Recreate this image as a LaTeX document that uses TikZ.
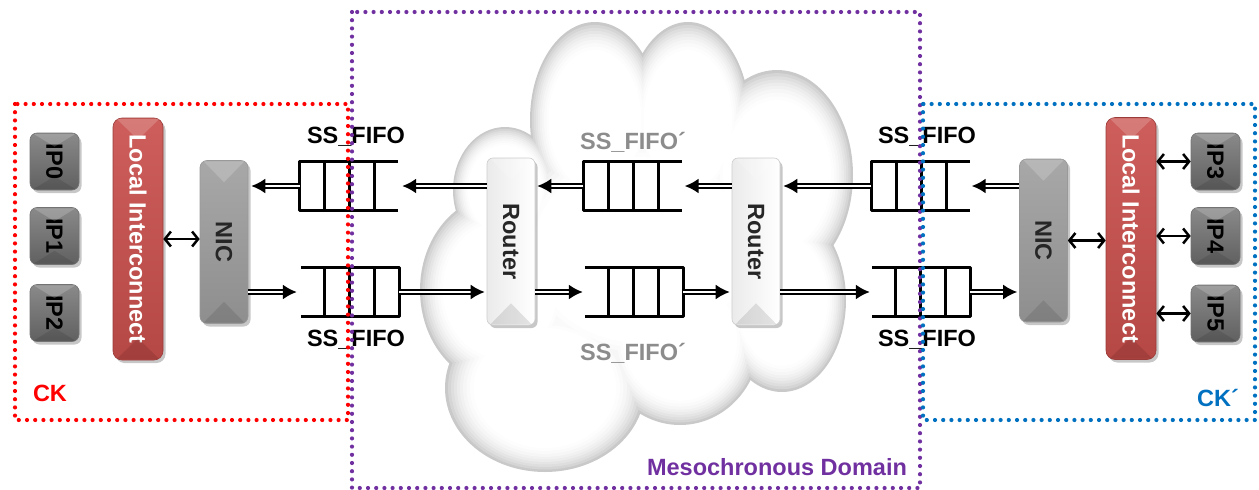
\documentclass[tikz,border=0pt]{standalone}
\usepackage{fontspec}
\usepackage{graphicx}
\setmainfont{Liberation Sans}
\usetikzlibrary{arrows.meta,shadows,calc}

\definecolor{ckred}{HTML}{FF0000}
\definecolor{ckblue}{HTML}{0070C0}
\definecolor{mesopurple}{HTML}{7030A0}
\definecolor{fifogray}{HTML}{8C8C8C}
\definecolor{ipTop}{HTML}{8A8A8A}
\definecolor{ipBot}{HTML}{606060}
\definecolor{liTop}{HTML}{CD5E5B}
\definecolor{liBot}{HTML}{B54744}
\definecolor{nicTop}{HTML}{A8A8A8}
\definecolor{nicBot}{HTML}{8E8E8E}

% light and dark facets on the bevelled boxes
\newcommand\facet[2]{%
  \fill[white,opacity=.18] ([xshift=4pt,yshift=-1.2pt]#1.north west) -- ([xshift=-4pt,yshift=-1.2pt]#1.north east) -- ([yshift=-#2pt]#1.north) -- cycle;
  \fill[black,opacity=.10] ([xshift=4pt,yshift=1.2pt]#1.south west) -- ([xshift=-4pt,yshift=1.2pt]#1.south east) -- ([yshift=#2pt]#1.south) -- cycle;}

% queue closed at its left end
\newcommand\fifoclosedleft[1]{%
  \draw[fifoline] (#1.north east) -- (#1.north west) -- (#1.south west) -- (#1.south east);
  \foreach \k in {25,50,75}{\draw[fifoline] ([xshift=\k pt]#1.north west) -- ([xshift=\k pt]#1.south west);}}
% queue closed at its right end
\newcommand\fifoclosedright[1]{%
  \draw[fifoline] (#1.north west) -- (#1.north east) -- (#1.south east) -- (#1.south west);
  \foreach \k in {25,50,75}{\draw[fifoline] ([xshift=-\k pt]#1.north east) -- ([xshift=-\k pt]#1.south east);}}

\begin{document}
\begin{tikzpicture}[x=1pt,y=-1pt,
  every node/.style={font=\fontsize{23.5}{28}\selectfont\bfseries, inner sep=0pt},
  boxshadow/.style={drop shadow={shadow xshift=2.5pt,shadow yshift=-3pt,opacity=.22,fill=black}},
  ipbox/.style={boxshadow, rounded corners=7pt, draw=black!55, line width=.6pt,
    top color=ipTop, bottom color=ipBot, minimum width=49pt, minimum height=57pt, text=black},
  libox/.style={boxshadow, rounded corners=9pt, draw=liBot!85!black, line width=.6pt,
    top color=liTop, bottom color=liBot, minimum width=50pt, minimum height=242pt, text=white},
  nicbox/.style={boxshadow, rounded corners=7pt, draw=black!40, line width=.6pt,
    top color=nicTop, bottom color=nicBot, minimum width=48pt, minimum height=163pt, text=black!85},
  routerbox/.style={boxshadow, rounded corners=6pt, draw=black!20, line width=.6pt,
    left color=black!8, right color=white, minimum width=48pt, minimum height=167pt, text=black!85},
  fifobox/.style={minimum width=98pt, minimum height=49pt},
  fifoline/.style={line width=3pt, line join=round, draw=black},
  dblarrow/.style={draw=black, line width=2pt, double=white, double distance=2.4pt,
    -{Latex[length=14pt,width=15pt]}},
  biarrow/.style={draw=black, line width=2.5pt,
    {Straight Barb[length=6pt,width=15pt]}-{Straight Barb[length=6pt,width=15pt]}},
  dotborder/.style={line width=4.2pt, line cap=round, dash pattern=on 0pt off 8.2pt},
  lbl/.style={text=black}
]
\useasboundingbox (0,0) rectangle (1259,490);

% ---- the cloud of the mesochronous network:
% the union of the lobes is filled ring by ring, grey at the rim, white inside
\foreach \s/\c in {1/21, .97/16.5, .94/13, .91/10, .88/7.5, .85/5.5, .82/3.5, .785/2, .75/0.8, .715/0}{
  \foreach \cx/\cy/\rx/\ry in {640/250/150/130, 505/190/52/63, 500/290/80/95, 545/388/100/84,
      680/340/80/85, 782/300/64/92, 777/175/76/105, 595/120/65/98, 688/120/62/98}{
    \fill[black!\c] (\cx,\cy) ellipse [x radius=\s*\rx, y radius=\s*\ry];
  }
}

% ---- clock domain CK
\node[ipbox] (ipL0) at (54.5,161.5) {\rotatebox{-90}{IP0}};
\node[ipbox] (ipL1) at (54.5,236)   {\rotatebox{-90}{IP1}};
\node[ipbox] (ipL2) at (54.5,313)   {\rotatebox{-90}{IP2}};
\node[libox] (liL) at (138,239) {\rotatebox{-90}{Local Interconnect}};
\node[nicbox] (nicL) at (224,242) {\rotatebox{-90}{NIC}};
\facet{ipL0}{14}\facet{ipL1}{14}\facet{ipL2}{14}\facet{liL}{22}\facet{nicL}{22}

% ---- routers
\node[routerbox] (r1) at (511,241.5) {\rotatebox{-90}{Router}};
\node[routerbox] (r2) at (756,241.5) {\rotatebox{-90}{Router}};
\facet{r1}{22}\facet{r2}{22}

% ---- clock domain CK'
\node[nicbox] (nicR) at (1043.5,240.5) {\rotatebox{-90}{NIC}};
\node[libox] (liR) at (1131,238.5) {\rotatebox{-90}{Local Interconnect}};
\node[ipbox] (ipR3) at (1215.5,161.5) {\rotatebox{-90}{IP3}};
\node[ipbox] (ipR4) at (1215.5,236)   {\rotatebox{-90}{IP4}};
\node[ipbox] (ipR5) at (1215.5,313.5) {\rotatebox{-90}{IP5}};
\facet{ipR3}{14}\facet{ipR4}{14}\facet{ipR5}{14}\facet{liR}{22}\facet{nicR}{22}

% ---- synchronising FIFOs
\node[fifobox] (fifoLT) at (349,186) {};
\node[fifobox] (fifoLB) at (350,292) {};
\node[fifobox] (fifoMT) at (632.5,186) {};
\node[fifobox] (fifoMB) at (634,292) {};
\node[fifobox] (fifoRT) at (920.5,186) {};
\node[fifobox] (fifoRB) at (921,292) {};
\fifoclosedleft{fifoLT}\fifoclosedright{fifoLB}
\fifoclosedleft{fifoMT}\fifoclosedright{fifoMB}
\fifoclosedleft{fifoRT}\fifoclosedright{fifoRB}

\node[lbl] (tLT) at (356,137) {SS\_FIFO};
\node[lbl] (tLB) at (356,340) {SS\_FIFO};
\node[lbl] (tRT) at (927,137) {SS\_FIFO};
\node[lbl] (tRB) at (927,340) {SS\_FIFO};
\node[text=fifogray] (tMT) at (633,142) {SS\_FIFO´};
\node[text=fifogray] (tMB) at (633,353) {SS\_FIFO´};

% ---- data links, right to left (upper row)
\draw[dblarrow, shorten >=3pt] (fifoLT.west) -- (fifoLT.west -| nicL.east);
\draw[dblarrow] (r1.west |- fifoLT.east) -- ([xshift=4pt]fifoLT.east);
\draw[dblarrow, shorten >=2pt] (fifoMT.west) -- (fifoMT.west -| r1.east);
\draw[dblarrow] (r2.west |- fifoMT.east) -- ([xshift=3pt]fifoMT.east);
\draw[dblarrow, shorten >=3pt] (fifoRT.west) -- (fifoRT.west -| r2.east);
\draw[dblarrow] (nicR.west |- fifoRT.east) -- ([xshift=2pt]fifoRT.east);
% ---- data links, left to right (lower row)
\draw[dblarrow, shorten >=4pt] (nicL.east |- fifoLB.west) -- (fifoLB.west);
\draw[dblarrow, shorten >=2pt] (fifoLB.east) -- (fifoLB.east -| r1.west);
\draw[dblarrow, shorten >=2pt] (r1.east |- fifoMB.west) -- (fifoMB.west);
\draw[dblarrow, shorten >=2pt] (fifoMB.east) -- (fifoMB.east -| r2.west);
\draw[dblarrow, shorten >=2pt] (r2.east |- fifoRB.west) -- (fifoRB.west);
\draw[dblarrow, shorten >=2pt] (fifoRB.east) -- (fifoRB.east -| nicR.west);

% ---- local bidirectional links
\draw[biarrow] (liL.east) -- (liL.east -| nicL.west);
\draw[biarrow] (nicR.east) -- (nicR.east -| liR.west);
\draw[biarrow] (ipR3.west -| liR.east) -- (ipR3.west);
\draw[biarrow] (ipR4.west -| liR.east) -- (ipR4.west);
\draw[biarrow] (ipR5.west -| liR.east) -- (ipR5.west);

% ---- clock domain borders
\draw[dotborder, draw=mesopurple] (352,12) rectangle (920,488);
\draw[dotborder, draw=ckred] (15,104) rectangle (348,420);
\draw[dotborder, draw=ckblue] (923,104) rectangle (1255,420);

\node[text=ckred] (ck) at (50,393) {CK};
\node[text=ckblue] (ckp) at (1218,398) {CK´};
\node[text=mesopurple] (meso) at (777,467) {Mesochronous Domain};
\end{tikzpicture}
\end{document}
